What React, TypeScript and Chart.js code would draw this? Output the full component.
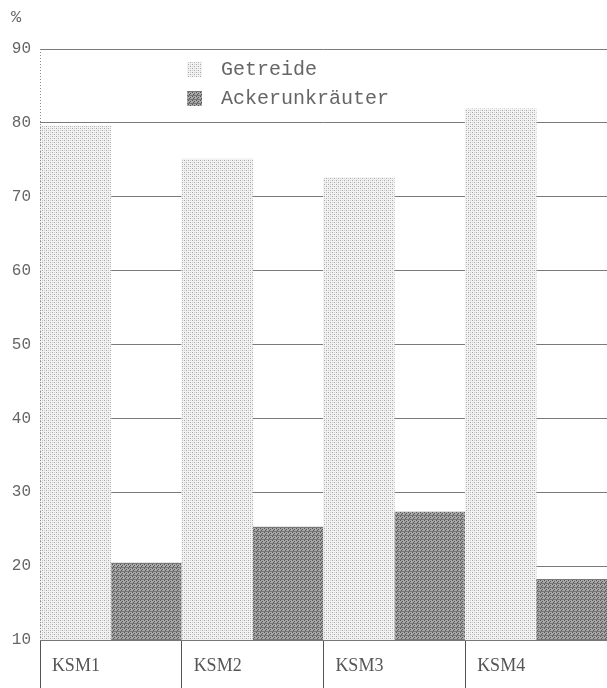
import React, { useEffect, useRef } from "react";
import { Chart, registerables } from "chart.js";

Chart.register(...registerables);

const categories = ["KSM1", "KSM2", "KSM3", "KSM4"];
const getreide = [79.6, 75.1, 72.6, 81.9];
const ackerunkraeuter = [20.4, 25.3, 27.3, 18.2];
const seriesLabels = ["Getreide", "Ackerunkräuter"];
const yMin = 10;
const yMax = 90;
const yStep = 10;
const unitLabel = "%";

function makePattern(kind: "light" | "dark"): CanvasPattern | string {
  const c = document.createElement("canvas");
  c.width = 4;
  c.height = 4;
  const g = c.getContext("2d");
  if (!g) return kind === "light" ? "#ddd" : "#888";
  if (kind === "light") {
    g.fillStyle = "#f2f2f2";
    g.fillRect(0, 0, 4, 4);
    g.fillStyle = "#a8a8a8";
    g.fillRect(0, 0, 1, 1);
    g.fillRect(2, 2, 1, 1);
    g.fillStyle = "#cfcfcf";
    g.fillRect(2, 0, 1, 1);
    g.fillRect(0, 2, 1, 1);
  } else {
    g.fillStyle = "#a8a8a8";
    g.fillRect(0, 0, 4, 4);
    g.fillStyle = "#555";
    g.fillRect(0, 0, 1, 1);
    g.fillRect(2, 1, 1, 1);
    g.fillRect(1, 2, 1, 1);
    g.fillStyle = "#777";
    g.fillRect(0, 3, 4, 1);
  }
  const p = g.createPattern(c, "repeat");
  return p || (kind === "light" ? "#ddd" : "#888");
}

export default function App() {
  const ref = useRef<HTMLCanvasElement | null>(null);

  useEffect(() => {
    if (!ref.current) return;
    const light = makePattern("light");
    const dark = makePattern("dark");

    const overlay = {
      id: "overlay",
      afterDatasetsDraw(chart: any) {
        const ctx = chart.ctx;
        const area = chart.chartArea;
        ctx.save();
        // dotted left border
        ctx.strokeStyle = "#8a8a8a";
        ctx.lineWidth = 1;
        ctx.setLineDash([1, 2]);
        ctx.beginPath();
        ctx.moveTo(Math.round(area.left) + 0.5, area.top);
        ctx.lineTo(Math.round(area.left) + 0.5, area.bottom);
        ctx.stroke();
        ctx.setLineDash([]);
        // unit label
        ctx.fillStyle = "#666";
        ctx.font = "17px 'Liberation Mono', monospace";
        ctx.textAlign = "left";
        ctx.textBaseline = "middle";
        ctx.fillText(unitLabel, 11, 17);
        // legend
        const ds = chart.data.datasets;
        const rows = [70, 99];
        ds.forEach((d: any, i: number) => {
          ctx.fillStyle = d.backgroundColor;
          ctx.fillRect(187, rows[i] - 8, 15, 15);
          ctx.fillStyle = "#666";
          ctx.font = "20px 'Liberation Mono', monospace";
          ctx.textBaseline = "middle";
          ctx.fillText(d.label, 221, rows[i]);
        });
        ctx.restore();
      },
    };

    const chart = new Chart(ref.current, {
      type: "bar",
      data: {
        labels: categories,
        datasets: [
          {
            label: seriesLabels[0],
            data: getreide,
            backgroundColor: light as any,
            borderWidth: 0,
          },
          {
            label: seriesLabels[1],
            data: ackerunkraeuter,
            backgroundColor: dark as any,
            borderWidth: 0,
          },
        ],
      },
      options: {
        animation: false,
        responsive: false,
        layout: { padding: { top: 49, left: 0, right: 0, bottom: 0 } },
        plugins: {
          legend: { display: false },
          tooltip: { enabled: false },
          title: { display: false },
        },
        datasets: {
          bar: { categoryPercentage: 1, barPercentage: 1 },
        },
        scales: {
          x: {
            offset: true,
            afterFit: (s: any) => {
              s.height = 48;
            },
            grid: {
              offset: true,
              drawOnChartArea: false,
              drawTicks: true,
              tickLength: 48,
              color: "#555",
              lineWidth: 1,
            },
            border: { display: true, color: "#777", width: 1 },
            ticks: {
              align: "start",
              labelOffset: -59,
              padding: -33,
              color: "#555",
              font: { family: "'Liberation Serif', serif", size: 18 },
              maxRotation: 0,
              autoSkip: false,
            },
          },
          y: {
            min: yMin,
            max: yMax,
            afterFit: (s: any) => {
              s.width = 40;
            },
            grid: {
              drawTicks: false,
              color: "#7a7a7a",
              lineWidth: 1,
            },
            border: { display: false },
            ticks: {
              stepSize: yStep,
              padding: 9,
              color: "#666",
              font: { family: "'Liberation Mono', monospace", size: 16 },
            },
          },
        },
      },
      plugins: [overlay],
    });

    return () => chart.destroy();
  }, []);

  return (
    <div style={{ position: "fixed", left: 0, top: 0, width: 607, height: 688, background: "#fff" }}>
      <canvas ref={ref} width={607} height={688} style={{ display: "block" }} />
    </div>
  );
}
